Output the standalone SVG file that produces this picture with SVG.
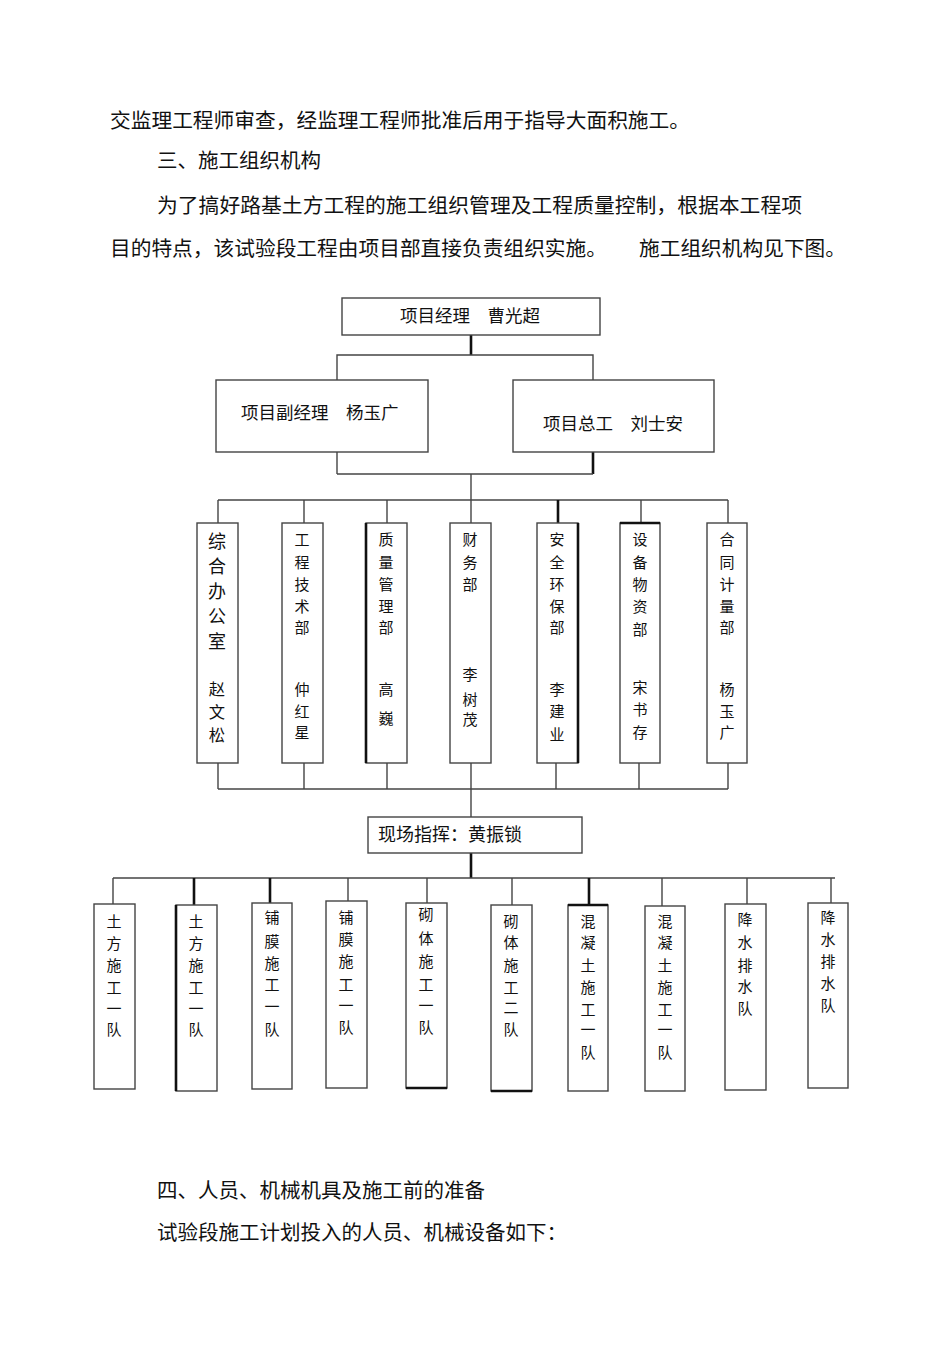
<svg xmlns="http://www.w3.org/2000/svg" width="950" height="1345" viewBox="0 0 950 1345">
<style>
.body{font-family:"Noto Sans CJK SC","Liberation Sans",sans-serif;font-size:20.5px;fill:#111}
.bx{fill:#fff;stroke:#444;stroke-width:1.4}
.t17{font-family:"Noto Sans CJK SC","Liberation Sans",sans-serif;font-size:17.5px;fill:#111}
.v15{font-family:"Noto Sans CJK SC","Liberation Sans",sans-serif;font-size:15px;fill:#111;text-anchor:middle}
.v18{font-family:"Noto Sans CJK SC","Liberation Sans",sans-serif;font-size:18px;fill:#111;text-anchor:middle}
.v16{font-family:"Noto Sans CJK SC","Liberation Sans",sans-serif;font-size:16.3px;fill:#111;text-anchor:middle}
.ln{stroke:#444;stroke-width:1.4;fill:none}
.tk{stroke:#111;stroke-width:2.6;fill:none}
</style>
<rect width="950" height="1345" fill="#fff"/>
<g id="text-top">
<text class="body" x="110" y="128" textLength="580" lengthAdjust="spacingAndGlyphs">交监理工程师审查，经监理工程师批准后用于指导大面积施工。</text>
<text class="body" x="157" y="168">三、施工组织机构</text>
<text class="body" x="157" y="213" textLength="645" lengthAdjust="spacingAndGlyphs">为了搞好路基土方工程的施工组织管理及工程质量控制，根据本工程项</text>
<text class="body" x="110" y="256" textLength="497" lengthAdjust="spacingAndGlyphs">目的特点，该试验段工程由项目部直接负责组织实施。</text>
<text class="body" x="639" y="256" textLength="207" lengthAdjust="spacingAndGlyphs">施工组织机构见下图。</text>
</g>
<g id="connectors">
<line class="tk" x1="471" y1="335" x2="471" y2="355"/>
<polyline class="ln" points="337,380 337,355 593,355 593,380"/>
<line class="ln" x1="337" y1="452" x2="337" y2="474"/>
<line class="tk" x1="593" y1="452" x2="593" y2="474"/>
<line class="ln" x1="337" y1="474" x2="593" y2="474"/>
<line class="ln" x1="471" y1="474" x2="471" y2="523"/>
<line class="ln" x1="218" y1="500" x2="728" y2="500"/>
<line class="ln" x1="218" y1="500" x2="218" y2="523"/>
<line class="ln" x1="304" y1="500" x2="304" y2="523"/>
<line class="ln" x1="387" y1="500" x2="387" y2="523"/>
<line class="tk" x1="558" y1="500" x2="558" y2="523"/>
<line class="ln" x1="641" y1="500" x2="641" y2="523"/>
<line class="ln" x1="728" y1="500" x2="728" y2="523"/>
<line class="ln" x1="218" y1="789" x2="728" y2="789"/>
<line class="ln" x1="218" y1="763" x2="218" y2="789"/>
<line class="ln" x1="304" y1="763" x2="304" y2="789"/>
<line class="ln" x1="387" y1="763" x2="387" y2="789"/>
<line class="ln" x1="471" y1="763" x2="471" y2="817"/>
<line class="ln" x1="556" y1="763" x2="556" y2="789"/>
<line class="ln" x1="639" y1="763" x2="639" y2="789"/>
<line class="ln" x1="728" y1="763" x2="728" y2="789"/>
<line class="tk" x1="471" y1="853" x2="471" y2="878"/>
<line class="ln" x1="113" y1="878" x2="835" y2="878"/>
<line class="ln" x1="113" y1="878" x2="113" y2="904"/>
<line class="tk" x1="194" y1="878" x2="194" y2="905"/>
<line class="tk" x1="270" y1="878" x2="270" y2="903"/>
<line class="ln" x1="348" y1="878" x2="348" y2="901"/>
<line class="ln" x1="427" y1="878" x2="427" y2="903"/>
<line class="ln" x1="512" y1="878" x2="512" y2="905"/>
<line class="tk" x1="589" y1="878" x2="589" y2="905"/>
<line class="ln" x1="662" y1="878" x2="662" y2="906"/>
<line class="ln" x1="747" y1="878" x2="747" y2="904"/>
<line class="ln" x1="831" y1="878" x2="831" y2="903"/>
</g>
<g id="n-pm">
<rect class="bx" x="342" y="298" width="258" height="37"/>
<text class="t17" x="400" y="322">项目经理　曹光超</text>
</g>
<g id="n-dpm">
<rect class="bx" x="216" y="380" width="212" height="72"/>
<text class="t17" x="241" y="419">项目副经理　杨玉广</text>
</g>
<g id="n-ce">
<rect class="bx" x="513" y="380" width="201" height="72"/>
<text class="t17" x="543" y="430">项目总工　刘士安</text>
</g>
<g id="d1">
<rect class="bx" x="197" y="523" width="41" height="240"/>
<text class="v18"><tspan x="217" y="548">综</tspan><tspan x="217" y="573">合</tspan><tspan x="217" y="598">办</tspan><tspan x="217" y="623">公</tspan><tspan x="217" y="648">室</tspan></text>
<text class="v16"><tspan x="217" y="695">赵</tspan><tspan x="217" y="718">文</tspan><tspan x="217" y="741">松</tspan></text>
</g>
<g id="d2">
<rect class="bx" x="282" y="523" width="41" height="240"/>
<text class="v15"><tspan x="302" y="545">工</tspan><tspan x="302" y="568">程</tspan><tspan x="302" y="590">技</tspan><tspan x="302" y="612">术</tspan><tspan x="302" y="633">部</tspan><tspan x="302" y="695">仲</tspan><tspan x="302" y="717">红</tspan><tspan x="302" y="738">星</tspan></text>
</g>
<g id="d3">
<rect class="bx" x="366" y="523" width="41" height="240"/>
<line class="tk" x1="366" y1="523" x2="366" y2="763"/>
<text class="v15"><tspan x="386" y="545">质</tspan><tspan x="386" y="568">量</tspan><tspan x="386" y="590">管</tspan><tspan x="386" y="612">理</tspan><tspan x="386" y="633">部</tspan><tspan x="386" y="695">高</tspan><tspan x="386" y="724">巍</tspan></text>
</g>
<g id="d4">
<rect class="bx" x="450" y="523" width="41" height="240"/>
<text class="v15"><tspan x="470" y="545">财</tspan><tspan x="470" y="568">务</tspan><tspan x="470" y="590">部</tspan><tspan x="470" y="680">李</tspan><tspan x="470" y="705">树</tspan><tspan x="470" y="725">茂</tspan></text>
</g>
<g id="d5">
<rect class="bx" x="537" y="523" width="41" height="240"/>
<line class="tk" x1="578" y1="523" x2="578" y2="763"/>
<text class="v15"><tspan x="557" y="545">安</tspan><tspan x="557" y="568">全</tspan><tspan x="557" y="590">环</tspan><tspan x="557" y="612">保</tspan><tspan x="557" y="633">部</tspan><tspan x="557" y="695">李</tspan><tspan x="557" y="717">建</tspan><tspan x="557" y="740">业</tspan></text>
</g>
<g id="d6">
<rect class="bx" x="620" y="523" width="40" height="240"/>
<line class="tk" x1="620" y1="523" x2="660" y2="523"/>
<text class="v15"><tspan x="640" y="545">设</tspan><tspan x="640" y="568">备</tspan><tspan x="640" y="590">物</tspan><tspan x="640" y="612">资</tspan><tspan x="640" y="635">部</tspan><tspan x="640" y="693">宋</tspan><tspan x="640" y="715">书</tspan><tspan x="640" y="738">存</tspan></text>
</g>
<g id="d7">
<rect class="bx" x="707" y="523" width="40" height="240"/>
<text class="v15"><tspan x="727" y="545">合</tspan><tspan x="727" y="568">同</tspan><tspan x="727" y="590">计</tspan><tspan x="727" y="612">量</tspan><tspan x="727" y="633">部</tspan><tspan x="727" y="695">杨</tspan><tspan x="727" y="717">玉</tspan><tspan x="727" y="738">广</tspan></text>
</g>
<g id="n-site">
<rect class="bx" x="368" y="817" width="214" height="36"/>
<text class="t17" x="378" y="841" style="font-size:18px">现场指挥：黄振锁</text>
</g>
<g id="t1">
<rect class="bx" x="94" y="904" width="41" height="185"/>
<text class="v15"><tspan x="114" y="927">土</tspan><tspan x="114" y="949">方</tspan><tspan x="114" y="971">施</tspan><tspan x="114" y="993">工</tspan><tspan x="114" y="1014">一</tspan><tspan x="114" y="1035">队</tspan></text>
</g>
<g id="t2">
<rect class="bx" x="176" y="905" width="41" height="186"/>
<line class="tk" x1="176" y1="905" x2="176" y2="1091"/>
<text class="v15"><tspan x="196" y="927">土</tspan><tspan x="196" y="949">方</tspan><tspan x="196" y="971">施</tspan><tspan x="196" y="993">工</tspan><tspan x="196" y="1014">一</tspan><tspan x="196" y="1035">队</tspan></text>
</g>
<g id="t3">
<rect class="bx" x="252" y="903" width="40" height="186"/>
<text class="v15"><tspan x="272" y="923">铺</tspan><tspan x="272" y="947">膜</tspan><tspan x="272" y="969">施</tspan><tspan x="272" y="990">工</tspan><tspan x="272" y="1012">一</tspan><tspan x="272" y="1035">队</tspan></text>
</g>
<g id="t4">
<rect class="bx" x="326" y="901" width="41" height="187"/>
<text class="v15"><tspan x="346" y="923">铺</tspan><tspan x="346" y="945">膜</tspan><tspan x="346" y="967">施</tspan><tspan x="346" y="990">工</tspan><tspan x="346" y="1011">一</tspan><tspan x="346" y="1033">队</tspan></text>
</g>
<g id="t5">
<rect class="bx" x="406" y="903" width="41" height="185"/>
<line class="tk" x1="406" y1="1088" x2="447" y2="1088"/>
<text class="v15"><tspan x="426" y="920">砌</tspan><tspan x="426" y="944">体</tspan><tspan x="426" y="967">施</tspan><tspan x="426" y="990">工</tspan><tspan x="426" y="1011">一</tspan><tspan x="426" y="1033">队</tspan></text>
</g>
<g id="t6">
<rect class="bx" x="491" y="905" width="41" height="186"/>
<line class="tk" x1="491" y1="1091" x2="532" y2="1091"/>
<text class="v15"><tspan x="511" y="927">砌</tspan><tspan x="511" y="948">体</tspan><tspan x="511" y="971">施</tspan><tspan x="511" y="993">工</tspan><tspan x="511" y="1013">二</tspan><tspan x="511" y="1035">队</tspan></text>
</g>
<g id="t7">
<rect class="bx" x="568" y="905" width="40" height="186"/>
<line class="tk" x1="568" y1="905" x2="608" y2="905"/>
<text class="v15"><tspan x="588" y="927">混</tspan><tspan x="588" y="948">凝</tspan><tspan x="588" y="971">土</tspan><tspan x="588" y="993">施</tspan><tspan x="588" y="1015">工</tspan><tspan x="588" y="1035">一</tspan><tspan x="588" y="1058">队</tspan></text>
</g>
<g id="t8">
<rect class="bx" x="645" y="906" width="40" height="185"/>
<text class="v15"><tspan x="665" y="927">混</tspan><tspan x="665" y="948">凝</tspan><tspan x="665" y="971">土</tspan><tspan x="665" y="993">施</tspan><tspan x="665" y="1015">工</tspan><tspan x="665" y="1035">一</tspan><tspan x="665" y="1058">队</tspan></text>
</g>
<g id="t9">
<rect class="bx" x="725" y="904" width="41" height="186"/>
<text class="v15"><tspan x="745" y="925">降</tspan><tspan x="745" y="948">水</tspan><tspan x="745" y="971">排</tspan><tspan x="745" y="992">水</tspan><tspan x="745" y="1014">队</tspan></text>
</g>
<g id="t10">
<rect class="bx" x="808" y="903" width="40" height="185"/>
<text class="v15"><tspan x="828" y="923">降</tspan><tspan x="828" y="945">水</tspan><tspan x="828" y="967">排</tspan><tspan x="828" y="989">水</tspan><tspan x="828" y="1011">队</tspan></text>
</g>
<g id="text-bottom">
<text class="body" x="157" y="1198">四、人员、机械机具及施工前的准备</text>
<text class="body" x="157" y="1240">试验段施工计划投入的人员、机械设备如下：</text>
</g>
</svg>
